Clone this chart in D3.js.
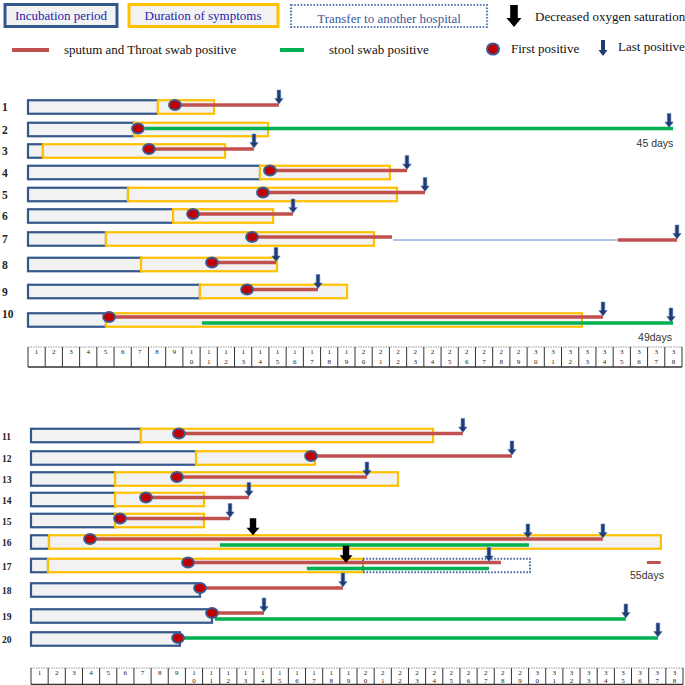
<!DOCTYPE html>
<html><head><meta charset="utf-8">
<script src="https://cdn.jsdelivr.net/npm/d3@7"></script>
<style>body{margin:0;background:#fff}svg{display:block}</style>
</head><body><svg id="chart" width="685" height="685"></svg>
<script>
// ---------- DATA (x values in day-grid units) ----------
const patients = d3.range(1, 21).map(String);
const incubationEnd = [7.55, 6.16, 0.87, 13.48, 5.81, 8.43, 4.53, 6.57, 9.99, 4.53,
                       6.41, 9.62, 4.90, 4.90, 4.90, 1.05, 0.99, 9.85, 10.55, 8.68];
const symptomEnd = [10.81, 13.95, 11.45, 21.03, 21.44, 14.24, 20.10, 14.47, 18.54, 32.19,
                    23.43, 16.55, 21.39, 10.08, 10.08, 36.71, 19.35, null, null, null];
const firstPositive = [8.54, 6.39, 7.03, 14.06, 13.65, 9.59, 13.02, 10.69, 12.73, 4.71,
                       8.62, 16.32, 8.51, 6.70, 5.19, 3.44, 9.15, 9.85, 10.55, 8.57];
// [patient, start, end]
const sputumPositive = [[1, 8.54, 14.58], [3, 7.03, 13.13], [4, 14.06, 22.02], [5, 13.65, 23.07],
  [6, 9.59, 15.40], [7, 13.02, 21.15], [7, 34.28, 37.71], [8, 10.69, 14.41], [9, 12.73, 16.85],
  [10, 4.71, 33.41], [11, 8.62, 25.17], [12, 16.32, 28.03], [13, 8.51, 19.58], [14, 6.70, 12.70],
  [15, 5.19, 11.60], [16, 3.44, 33.33], [17, 9.15, 27.39], [18, 9.85, 18.18], [19, 10.55, 13.58]];
const stoolPositive = [[2, 6.80, 37.48], [10, 10.11, 37.48], [16, 11.01, 29.02],
  [17, 16.08, 26.69], [19, 10.72, 34.67], [20, 8.57, 36.54]];
// [patient, day, series]
const lastPositive = [[1, 14.58, "s"], [2, 37.25, "t"], [3, 13.13, "s"], [4, 22.02, "s"],
  [5, 23.07, "s"], [6, 15.40, "s"], [7, 37.71, "s"], [8, 14.41, "s"], [9, 16.85, "s"],
  [10, 33.41, "s"], [10, 37.36, "t"], [11, 25.17, "s"], [12, 28.03, "s"], [13, 19.58, "s"],
  [14, 12.70, "s"], [15, 11.60, "s"], [16, 28.96, "s"], [16, 33.33, "s"], [17, 26.69, "s"],
  [18, 18.18, "s"], [19, 13.58, "s"], [19, 34.67, "t"], [20, 36.54, "t"]];
const intermittentGap = [[7, 21.21, 34.98]];
const transferPeriod = [[17, 19.35, 29.08]];
const decreasedO2 = [[16, 12.94], [17, 18.36]];
const extensionMark = [[17, 35.9, 36.7]];
const durationNotes = [[2, "45 days", 36.43], [10, "49days", 36.43], [17, "55days", 35.9]];
const dayTicks = d3.range(1, 39);

// ---------- SCALES ----------
const svg = d3.select("#chart");
const xTop = d3.scaleLinear().domain([0, 38]).range([28, 682]);
const xBot = d3.scaleLinear().domain([0, 38]).range([31, 683]);
const xOf = p => (+p <= 10 ? xTop : xBot);
const y = d3.scaleLinear().domain(d3.range(1, 21))
  .range([107, 129.5, 151, 172.5, 194.5, 216, 239, 264.5, 291.5, 320,
          435.5, 458, 479, 499.5, 520.5, 542, 565.5, 590, 616, 639]);
const rowH = 13.5;
const hasStool = new Set(stoolPositive.map(d => d[0]));
const hasSput = new Set(sputumPositive.map(d => d[0]));
const ySput = p => y(p) + (hasStool.has(p) ? -3 : -2);
const yStool = p => y(p) + (hasSput.has(p) ? 3 : -1);

const C = {blue: "#34588a", yellow: "#ffc000", fill: "#f2f2f2", red: "#c0504d",
           green: "#00b050", dot: "#c00000", dotRing: "#3b5b94", arrow: "#1f3d72"};
const serif = "'Liberation Serif', 'DejaVu Serif', serif";
const sans = "'Liberation Sans', Arial, sans-serif";

const smallArrow = "M-1.8,-14 L1.8,-14 L1.8,-5.5 L4.2,-5.5 L0,0 L-4.2,-5.5 L-1.8,-5.5 Z";
const bigArrow = "M-3.2,-17 L3.2,-17 L3.2,-7.5 L6.5,-7.5 L0,0 L-6.5,-7.5 L-3.2,-7.5 Z";

// ---------- LEGEND ----------
const lg = svg.append("g");
lg.append("rect").attr("x", 5).attr("y", 4.5).attr("width", 112).attr("height", 22)
  .attr("fill", C.fill).attr("stroke", C.blue).attr("stroke-width", 3);
lg.append("text").attr("x", 61).attr("y", 20).attr("text-anchor", "middle")
  .attr("font-family", serif).attr("font-size", 13).attr("fill", "#2424b0").text("Incubation period");
lg.append("rect").attr("x", 129).attr("y", 4.5).attr("width", 149).attr("height", 22)
  .attr("fill", C.fill).attr("stroke", C.yellow).attr("stroke-width", 3);
lg.append("text").attr("x", 203).attr("y", 20).attr("text-anchor", "middle")
  .attr("font-family", serif).attr("font-size", 13).attr("fill", "#2424b0").text("Duration of symptoms");
lg.append("rect").attr("x", 291).attr("y", 5).attr("width", 196).attr("height", 22)
  .attr("fill", "#fff").attr("stroke", "#5d7bb0").attr("stroke-width", 2.2).attr("stroke-dasharray", "1.6,1.6");
lg.append("text").attr("x", 389).attr("y", 23).attr("text-anchor", "middle")
  .attr("font-family", serif).attr("font-size", 13).attr("fill", "#3a5a9a").text("Transfer to another hospital");
lg.append("path").attr("d", "M-3.8,-22 L3.8,-22 L3.8,-9 L7.5,-9 L0,0 L-7.5,-9 L-3.8,-9 Z")
  .attr("transform", "translate(514,27)").attr("fill", "#000");
lg.append("text").attr("x", 535).attr("y", 21).attr("font-family", serif).attr("font-size", 13)
  .attr("fill", "#111").text("Decreased oxygen saturation");
lg.append("line").attr("x1", 12).attr("x2", 49).attr("y1", 50).attr("y2", 50)
  .attr("stroke", C.red).attr("stroke-width", 4);
lg.append("text").attr("x", 64).attr("y", 54).attr("font-family", serif).attr("font-size", 13)
  .attr("fill", "#111").text("sputum and Throat swab positive");
lg.append("line").attr("x1", 280).attr("x2", 304).attr("y1", 50).attr("y2", 50)
  .attr("stroke", C.green).attr("stroke-width", 4);
lg.append("text").attr("x", 329).attr("y", 54).attr("font-family", serif).attr("font-size", 13)
  .attr("fill", "#111").text("stool swab positive");
lg.append("ellipse").attr("cx", 493).attr("cy", 49).attr("rx", 6).attr("ry", 5.5)
  .attr("fill", C.dot).attr("stroke", C.dotRing).attr("stroke-width", 2);
lg.append("text").attr("x", 511).attr("y", 53).attr("font-family", serif).attr("font-size", 13)
  .attr("fill", "#111").text("First positive");
lg.append("path").attr("d", "M-2,-16 L2,-16 L2,-6 L4.5,-6 L0,0 L-4.5,-6 L-2,-6 Z")
  .attr("transform", "translate(603,56)").attr("fill", C.arrow);
lg.append("text").attr("x", 618).attr("y", 51).attr("font-family", serif).attr("font-size", 13)
  .attr("fill", "#111").text("Last positive");

// ---------- ROWS ----------
const rows = patients.map((p, i) => ({p: +p, inc: incubationEnd[i], sym: symptomEnd[i], first: firstPositive[i]}));
const g = svg.append("g");
// incubation boxes
g.selectAll("rect.inc").data(rows).join("rect").attr("class", "inc")
  .attr("x", d => xOf(d.p)(0)).attr("y", d => y(d.p) - rowH / 2)
  .attr("width", d => xOf(d.p)(d.inc) - xOf(d.p)(0)).attr("height", rowH)
  .attr("fill", C.fill).attr("stroke", C.blue).attr("stroke-width", 2.2);
// symptom boxes
g.selectAll("rect.sym").data(rows.filter(d => d.sym != null)).join("rect").attr("class", "sym")
  .attr("x", d => xOf(d.p)(d.inc)).attr("y", d => y(d.p) - rowH / 2)
  .attr("width", d => xOf(d.p)(d.sym) - xOf(d.p)(d.inc)).attr("height", rowH)
  .attr("fill", C.fill).attr("stroke", C.yellow).attr("stroke-width", 2.2);
// transfer
g.selectAll("rect.tr").data(transferPeriod).join("rect")
  .attr("x", d => xOf(d[0])(d[1])).attr("y", d => y(d[0]) - rowH / 2)
  .attr("width", d => xOf(d[0])(d[2]) - xOf(d[0])(d[1])).attr("height", rowH)
  .attr("fill", "none").attr("stroke", "#4a6aa5").attr("stroke-width", 2).attr("stroke-dasharray", "1.6,1.6");
// intermittent thin line
g.selectAll("line.gap").data(intermittentGap).join("line")
  .attr("x1", d => xOf(d[0])(d[1])).attr("x2", d => xOf(d[0])(d[2]))
  .attr("y1", d => y(d[0]) + 1).attr("y2", d => y(d[0]) + 1)
  .attr("stroke", "#5b86cc").attr("stroke-width", 1);
// stool lines
g.selectAll("line.stool").data(stoolPositive).join("line")
  .attr("x1", d => xOf(d[0])(d[1])).attr("x2", d => xOf(d[0])(d[2]))
  .attr("y1", d => yStool(d[0])).attr("y2", d => yStool(d[0]))
  .attr("stroke", C.green).attr("stroke-width", 3.5);
// sputum lines
g.selectAll("line.sput").data(sputumPositive).join("line")
  .attr("x1", d => xOf(d[0])(d[1])).attr("x2", d => xOf(d[0])(d[2]))
  .attr("y1", d => ySput(d[0]) + (d[1] > 30 ? 3 : 0)).attr("y2", d => ySput(d[0]) + (d[1] > 30 ? 3 : 0))
  .attr("stroke", C.red).attr("stroke-width", 3.5);
g.selectAll("line.ext").data(extensionMark).join("line")
  .attr("x1", d => xOf(d[0])(d[1])).attr("x2", d => xOf(d[0])(d[2]))
  .attr("y1", d => y(d[0]) - 3).attr("y2", d => y(d[0]) - 3)
  .attr("stroke", C.red).attr("stroke-width", 3);
// first positive dots
g.selectAll("ellipse.first").data(rows).join("ellipse")
  .attr("cx", d => xOf(d.p)(d.first))
  .attr("cy", d => hasSput.has(d.p) ? ySput(d.p) : yStool(d.p))
  .attr("rx", 6).attr("ry", 5)
  .attr("fill", C.dot).attr("stroke", C.dotRing).attr("stroke-width", 1.8);
// last positive arrows
g.selectAll("path.last").data(lastPositive).join("path")
  .attr("d", smallArrow)
  .attr("transform", d => `translate(${xOf(d[0])(d[1])},${(d[2] === "s" ? ySput(d[0]) + (d[1] > 34 && d[0] === 7 ? 3 : 0) : yStool(d[0])) - 1})`)
  .attr("fill", C.arrow).attr("stroke", "#5a7cb8").attr("stroke-width", 0.6);
// decreased oxygen arrows
g.selectAll("path.o2").data(decreasedO2).join("path")
  .attr("d", bigArrow)
  .attr("transform", (d, i) => `translate(${xOf(d[0])(d[1])},${y(d[0]) - rowH / 2 + (i ? 4 : 0)})`)
  .attr("fill", "#000");
// duration notes
g.selectAll("text.note").data(durationNotes).join("text")
  .attr("x", d => xOf(d[0])(d[2])).attr("y", d => y(d[0]) + (d[0] === 10 ? 21 : d[0] === 17 ? 13 : 17))
  .attr("text-anchor", "middle").attr("font-family", sans).attr("font-size", 10.5)
  .attr("fill", "#333").text(d => d[1]);
// row labels
g.selectAll("text.row").data(rows).join("text")
  .attr("x", 2).attr("y", d => y(d.p) + (d.p === 10 ? -2 : 4))
  .attr("font-family", serif).attr("font-size", d => d.p <= 10 ? 11.5 : 9.5)
  .attr("font-weight", "bold").attr("fill", "#222").text(d => d.p);

// ---------- DAY GRID AXES ----------
function dayAxis(x, top, h, b1, b2) {
  const a = svg.append("g");
  a.append("line").attr("x1", x(0)).attr("x2", x(38)).attr("y1", top).attr("y2", top)
    .attr("stroke", "#999").attr("stroke-width", 1).attr("stroke-dasharray", "1.5,1");
  a.append("line").attr("x1", x(0)).attr("x2", x(38)).attr("y1", top + h).attr("y2", top + h)
    .attr("stroke", "#333").attr("stroke-width", 1.5);
  a.selectAll("line.sep").data(d3.range(0, 39)).join("line")
    .attr("x1", d => x(d)).attr("x2", d => x(d)).attr("y1", top).attr("y2", top + h)
    .attr("stroke", "#333").attr("stroke-width", 1);
  dayTicks.forEach(t => {
    String(t).split("").forEach((ch, k) => {
      a.append("text").attr("x", x(t - 0.5)).attr("y", k ? b2 : b1)
        .attr("text-anchor", "middle").attr("font-family", serif).attr("font-size", 7)
        .attr("fill", "#222").text(ch);
    });
  });
}
dayAxis(xTop, 347, 20, 354, 364);
dayAxis(xBot, 668, 16.5, 675, 683);
</script></body></html>
